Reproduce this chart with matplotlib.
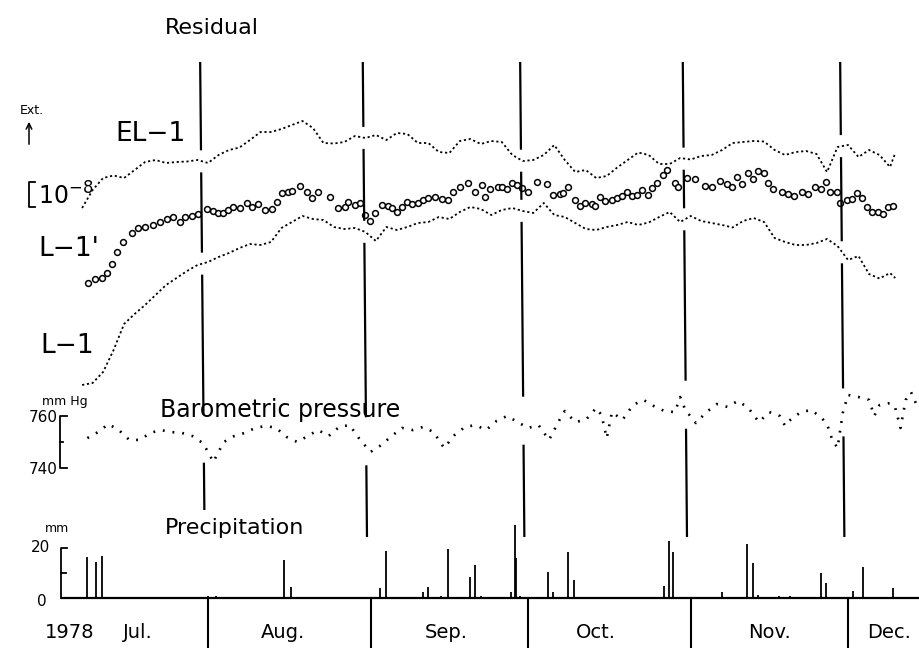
import matplotlib.pyplot as plt
import matplotlib.transforms as mtrans
import numpy as np

# all x values are days counted from 1 July 1978
grid_day = list(range(7, 162, 2)) + [162]

# residual extension, units of 1e-8 (common arbitrary offset)
el1 = [3.68, 4.4, 4.88, 4.98, 4.88, 5.2, 5.52, 5.6, 5.48, 5.52, 5.54, 5.6, 5.48, 5.8, 6.0, 6.1,
       6.4, 6.72, 6.72, 6.84, 7.0, 7.16, 6.88, 6.28, 6.26, 6.32, 6.56, 6.48, 6.6, 6.4, 6.68, 6.64,
       6.28, 6.28, 5.92, 5.88, 6.36, 6.44, 6.24, 6.36, 6.32, 5.8, 5.56, 5.6, 5.8, 6.2, 5.6, 5.12,
       5.2, 4.88, 4.96, 5.3, 5.6, 5.9, 5.8, 5.44, 5.44, 5.68, 5.62, 5.76, 5.8, 6.0, 6.28, 6.32,
       6.36, 6.34, 6.0, 5.8, 5.92, 5.96, 5.84, 5.12, 6.12, 6.2, 5.72, 6.0, 5.8, 5.32, 5.88]
l1 = [-3.4, -3.32, -2.88, -2.0, -0.96, -0.56, -0.2, 0.2, 0.6, 0.88, 1.16, 1.4, 1.52, 1.72, 1.88,
      2.08, 2.24, 2.2, 2.32, 2.88, 3.12, 3.36, 3.24, 3.2, 2.92, 2.84, 2.88, 2.72, 2.36, 2.92, 2.8,
      2.92, 3.08, 3.12, 3.32, 3.24, 3.52, 3.72, 3.64, 3.4, 3.6, 3.68, 3.56, 3.48, 3.88, 3.4, 3.32,
      3.08, 2.84, 2.8, 2.92, 3.0, 3.12, 3.0, 3.1, 3.32, 3.52, 3.12, 3.36, 3.16, 3.08, 3.0, 2.9,
      3.16, 3.28, 3.12, 2.48, 2.32, 2.2, 2.2, 2.28, 2.44, 2.16, 1.6, 1.76, 1.04, 0.86, 1.08, 0.88]

l1p_day = [8.1, 9.5, 10.8, 11.7, 12.7, 13.7, 14.8, 16.5, 17.7, 19.0, 20.5, 21.8, 23.2, 24.3, 25.7,
           26.6, 27.9, 29.1, 30.8, 31.9, 32.9, 33.8, 34.8, 35.8, 37.1, 38.4, 39.4, 40.5, 41.9, 43.2,
           44.1, 45.1, 46.2, 47.0, 48.5, 49.9, 50.8, 52.0, 54.2, 55.8, 57.1, 57.7, 59.0, 60.0, 60.9,
           61.9, 62.8, 64.2, 65.3, 66.1, 67.0, 68.0, 68.9, 69.9, 71.0, 72.0, 72.9, 74.3, 75.6, 76.7,
           77.7, 79.0, 80.6, 81.9, 83.2, 83.8, 84.7, 86.3, 87.0, 88.0, 88.9, 89.9, 90.8, 92.0, 93.7,
           95.6, 96.8, 98.1, 98.7, 99.6, 100.9, 101.9, 102.9, 104.2, 104.8, 105.7, 106.7, 108.0,
           109.0, 109.9, 110.9, 111.8, 112.8, 113.7, 114.9, 115.6, 116.6, 117.7, 118.5, 120.0, 120.6,
           122.3, 123.8, 125.7, 127.1, 128.6, 129.9, 130.9, 131.8, 132.8, 133.9, 134.9, 135.8, 137.0,
           137.7, 138.7, 140.4, 141.5, 142.7, 144.2, 145.4, 146.7, 147.8, 148.8, 149.6, 150.9, 151.5,
           152.8, 153.8, 154.7, 155.7, 156.6, 157.6, 158.7, 159.7, 160.6, 161.6]
l1p = [0.68, 0.84, 0.88, 1.08, 1.44, 1.92, 2.32, 2.68, 2.88, 2.92, 3.0, 3.12, 3.24, 3.32, 3.12, 3.32,
       3.36, 3.44, 3.64, 3.56, 3.48, 3.48, 3.6, 3.72, 3.68, 3.88, 3.72, 3.84, 3.6, 3.64, 3.92, 4.28,
       4.32, 4.36, 4.56, 4.32, 4.08, 4.32, 4.12, 3.68, 3.72, 3.92, 3.8, 3.88, 3.4, 3.16, 3.48, 3.8,
       3.76, 3.68, 3.52, 3.72, 3.92, 3.84, 3.88, 4.0, 4.08, 4.12, 4.04, 4.0, 4.32, 4.52, 4.68, 4.32,
       4.6, 4.12, 4.44, 4.52, 4.52, 4.44, 4.68, 4.6, 4.48, 4.32, 4.72, 4.64, 4.2, 4.24, 4.28, 4.52,
       4.0, 3.76, 3.88, 3.84, 3.76, 4.12, 3.96, 4.0, 4.08, 4.16, 4.32, 4.16, 4.2, 4.4, 4.2, 4.48,
       4.68, 5.0, 5.2, 4.68, 4.52, 4.88, 4.84, 4.56, 4.52, 4.76, 4.64, 4.52, 4.92, 4.64, 5.08, 4.84,
       5.16, 5.08, 4.68, 4.44, 4.32, 4.24, 4.16, 4.32, 4.24, 4.52, 4.44, 4.72, 4.32, 4.32, 3.88, 4.0,
       4.04, 4.28, 4.08, 3.72, 3.52, 3.52, 3.44, 3.72, 3.76]

# barometric pressure, mm Hg
baro_day = [8, 10, 12, 14, 16, 18, 20, 22, 24, 26, 28, 30, 31, 32, 33, 34, 36, 38, 40, 42, 44, 46,
            48, 50, 52, 54, 56, 58, 60, 62, 64, 66, 68, 70, 72, 74, 76, 78, 80, 82, 84, 86, 88, 90,
            92, 94, 96, 98, 99, 101, 103, 105, 106, 107, 108, 110, 112, 114, 116, 118, 120, 121,
            122, 124, 126, 128, 130, 132, 134, 136, 138, 140, 141, 142, 144, 146, 148, 149, 150,
            151, 152, 153, 155, 157, 158, 159, 161, 162, 163, 164, 165, 166]
baro = [751.5, 753.8, 756.9, 754.6, 750.8, 750.8, 753.5, 754.6, 753.8, 753.5, 752.3, 749.6, 746.2,
        742.3, 746.2, 750.0, 752.3, 753.5, 755.4, 756.2, 755.4, 751.9, 750.0, 752.3, 754.6, 752.3,
        755.8, 756.5, 750.8, 746.2, 748.8, 752.3, 755.4, 754.6, 755.8, 753.8, 747.7, 752.7, 755.8,
        756.5, 754.6, 758.1, 760.0, 757.7, 755.4, 756.5, 750.8, 758.5, 761.9, 757.7, 758.5, 763.1,
        760.4, 751.5, 761.5, 758.5, 764.2, 766.2, 763.8, 761.9, 761.5, 767.3, 762.3, 757.3, 761.5,
        764.6, 763.5, 765.8, 763.1, 757.7, 761.5, 760.0, 756.2, 758.5, 761.5, 762.3, 759.2, 756.9,
        750.8, 747.7, 761.2, 768.1, 767.3, 766.2, 760.0, 764.2, 765.0, 763.1, 755.4, 766.2, 769.2,
        764.6]

# precipitation, mm
rain_day = [7.9, 9.6, 10.7, 16.8, 31.0, 32.5, 45.5, 46.9, 63.8, 64.9, 72.0, 72.9, 75.5, 76.8, 80.9,
            81.9, 83.0, 88.7, 89.5, 89.8, 90.5, 95.9, 96.8, 99.6, 100.8, 117.9, 118.9, 119.7, 128.9,
            133.8, 134.8, 135.9, 139.8, 141.9, 147.8, 148.8, 154.0, 155.8, 161.6]
rain = [16.5, 14.5, 16.8, 0.5, 1.0, 1.0, 15.2, 4.5, 4.0, 18.8, 2.5, 4.5, 1.0, 19.6, 8.5, 13.2, 1.0,
        2.5, 29.2, 16.0, 1.0, 10.5, 2.5, 18.5, 7.2, 4.8, 22.9, 18.5, 2.5, 21.6, 14.1, 1.2, 0.8, 1.0,
        10.1, 6.1, 2.8, 12.3, 4.0]

month_start = [31, 62, 92, 123, 153]
month_names = ['Jul.', 'Aug.', 'Sep.', 'Oct.', 'Nov.', 'Dec.']
month_label_day = [17.7, 45.3, 76.5, 105, 138.1, 160.8]

W, H = 919, 648
X0, PXD = 45.4, 5.246          # pixel of 1 July, pixels per day
plt.rcParams['font.family'] = ['DejaVu Sans']
fig = plt.figure(figsize=(W / 100, H / 100), dpi=100)


def layer(ylim):
    ax = fig.add_axes([0, 0, 1, 1])
    ax.set_xlim(-X0 / PXD, (W - X0) / PXD)
    ax.set_ylim(*ylim)
    ax.axis('off')
    ax.patch.set_alpha(0)
    return ax


ax_s = layer((-13.92, 12.0))     # strain, 1e-8 = 25 px
ax_p = layer((670.77, 920.0))    # pressure
ax_r = layer((-20.0, 239.2))     # precipitation
ax_o = fig.add_axes([0, 0, 1, 1])  # layout in pixels
ax_o.set_xlim(0, W)
ax_o.set_ylim(H, 0)
ax_o.axis('off')
ax_o.patch.set_alpha(0)

k = 'black'
# curves
ax_s.plot(grid_day, el1, color=k, lw=1.3, ls=(0, (1.2, 1.5)))
ax_s.plot(grid_day, l1, color=k, lw=1.3, ls=(0, (1.2, 1.5)))
ax_s.plot(l1p_day, l1p, ls='none', marker='o', ms=4.2, mfc='white', mec=k, mew=1.1)
ax_p.plot(baro_day, baro, color=k, lw=1.9, ls=(0, (0.7, 3.0)))
ax_r.vlines(rain_day, 0, rain, color=k, lw=1.3)
ax_r.hlines(0, (61 - X0) / PXD, (W - X0) / PXD, color=k, lw=1.6)

# month dividers under the precipitation baseline
ax_r.vlines(month_start, -20, 0, color=k, lw=1.5)
for d, name in zip(month_label_day, month_names):
    ax_r.text(d, -14, name, ha='center', va='center', fontsize=14)


def ypix(ax, d, v):
    disp = ax.transData.transform((d, v))
    return ax_o.transData.inverted().transform(disp)[1]


# long reference lines with gaps where the curves pass
for m in month_start:
    d_top, d_bot = m - 1.5, m - 0.7
    y_top, y_bot = 62, (510 if m == 31 else 537)
    dm = m - 1.1
    gaps = []
    for ax, dd, vv, lo, hi in [(ax_s, grid_day, el1, 11, 11), (ax_s, grid_day, l1, 11, 11),
                               (ax_p, baro_day, baro, 28, 20)]:
        yc = ypix(ax, dm, np.interp(dm, dd, vv))
        gaps.append((yc - lo, yc + hi))
    gaps.sort()
    y = y_top
    segs = []
    for g0, g1 in gaps:
        if g0 > y:
            segs.append((y, g0))
        y = max(y, g1)
    segs.append((y, y_bot))
    for a, b in segs:
        xa = X0 + PXD * (d_top + (d_bot - d_top) * (a - y_top) / (y_bot - y_top))
        xb = X0 + PXD * (d_top + (d_bot - d_top) * (b - y_top) / (y_bot - y_top))
        ax_o.plot([xa, xb], [a, b], color=k, lw=1.6, solid_capstyle='butt')

# scale bars
ts = mtrans.blended_transform_factory(ax_o.transData, ax_s.transData)
ax_o.plot([35, 29, 29, 35], [3.72, 3.72, 4.72, 4.72], color=k, lw=1.3, transform=ts)
tp = mtrans.blended_transform_factory(ax_o.transData, ax_p.transData)
ax_o.plot([67, 60, 60, 67], [760, 760, 740, 740], color=k, lw=1.3, transform=tp)
ax_o.plot([60, 63], [750, 750], color=k, lw=1.3, transform=tp)
tr = mtrans.blended_transform_factory(ax_o.transData, ax_r.transData)
ax_o.plot([67, 61, 61], [20, 20, 0], color=k, lw=1.3, transform=tr)
ax_o.plot([61, 66], [10, 10], color=k, lw=1.3, transform=tr)

# texts
ax_o.text(165, 28, 'Residual', fontsize=16, va='center')
ax_o.text(20, 110, 'Ext.', fontsize=9, va='center')
ax_o.annotate('', xy=(29, 119), xytext=(29, 147),
              arrowprops=dict(arrowstyle='->', color=k, lw=1.1))
ax_o.text(115, 134, 'EL−1', fontsize=19, va='center')
ax_o.text(38, 196, '10$^{-8}$', fontsize=17, va='center')
ax_o.text(38, 249, "L−1'", fontsize=19, va='center')
ax_o.text(40, 346, 'L−1', fontsize=19, va='center')
ax_o.text(42, 401, 'mm Hg', fontsize=9, va='center')
ax_o.text(58, 418, '760', fontsize=11, va='center', ha='right')
ax_o.text(58, 469, '740', fontsize=11, va='center', ha='right')
ax_o.text(160, 410, 'Barometric pressure', fontsize=17, va='center')
ax_o.text(165, 528, 'Precipitation', fontsize=16, va='center')
ax_o.text(45, 528, 'mm', fontsize=9, va='center')
ax_o.text(50, 547, '20', fontsize=11, va='center', ha='right')
ax_o.text(42, 601, '0', fontsize=11, va='center', ha='center')
ax_o.text(70, 633, '1978', fontsize=14, va='center', ha='center')

fig.savefig('out.png', dpi=100, facecolor='white')
